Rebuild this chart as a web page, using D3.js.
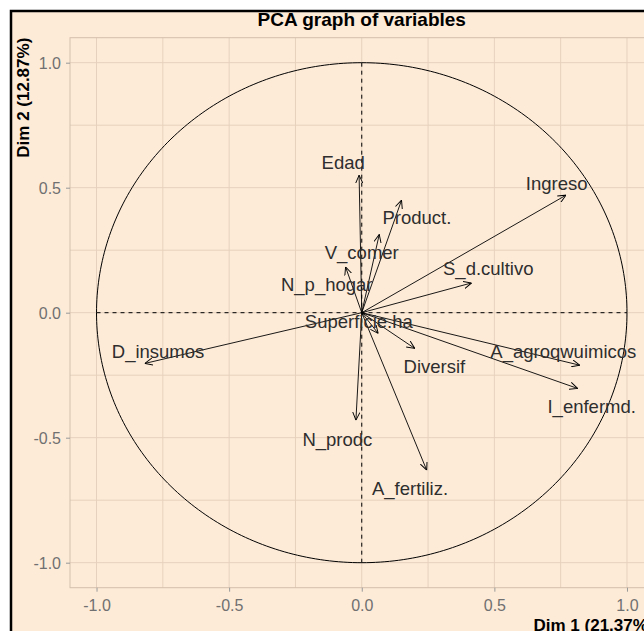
<!DOCTYPE html>
<html>
<head>
<meta charset="utf-8">
<script src="https://cdn.jsdelivr.net/npm/d3@7"></script>
<style>
  html, body { margin: 0; padding: 0; background: #ffffff; }
  svg { display: block; font-family: "Liberation Sans", Arial, sans-serif; }
</style>
</head>
<body>
<div id="chart"></div>
<script>
// variáveis e coordenadas (Dim 1, Dim 2)
const varNames = ["Edad", "Product.", "V_comer", "N_p_hogar", "S_d.cultivo", "Ingreso",
  "Superficie.ha", "D_insumos", "Diversif", "A_agroqwuimicos", "I_enfermd.", "N_prodc", "A_fertiliz."];
const dim1 = [-0.01, 0.15, 0.066, -0.061, 0.414, 0.77, 0.062, -0.818, 0.20, 0.822, 0.814, -0.022, 0.245];
const dim2 = [0.55, 0.45, 0.313, 0.183, 0.119, 0.47, -0.083, -0.203, -0.143, -0.21, -0.303, -0.43, -0.63];
// posição dos rótulos (centro do texto)
const labDim1 = [-0.07, 0.208, 0.0, -0.132, 0.477, 0.735, -0.011, -0.768, 0.274, 0.76, 0.867, -0.092, 0.182];
const labDim2 = [0.60, 0.38, 0.239, 0.113, 0.177, 0.515, -0.037, -0.157, -0.217, -0.157, -0.374, -0.507, -0.703];

const tickValues = [-1.0, -0.5, 0.0, 0.5, 1.0];
const gridValues = [-1.0, -0.75, -0.5, -0.25, 0.0, 0.25, 0.5, 0.75, 1.0];

const W = 644, H = 631;
const bg = "#fdebd8";

const svg = d3.select("#chart").append("svg")
  .attr("width", W)
  .attr("height", H);

// fundo e moldura preta
svg.append("rect")
  .attr("x", 11).attr("y", 11)
  .attr("width", 700).attr("height", 700)
  .attr("fill", bg)
  .attr("stroke", "#000")
  .attr("stroke-width", 2.5);

const xScale = d3.scaleLinear().domain([-1.1, 1.1]).range([70, 653.5]);
const yScale = d3.scaleLinear().domain([-1.1, 1.1]).range([587.7, 37.7]);

// grade
const grid = svg.append("g");
grid.selectAll(".gx").data(gridValues).enter().append("line")
  .attr("x1", d => xScale(d)).attr("x2", d => xScale(d))
  .attr("y1", yScale(1.1)).attr("y2", yScale(-1.1))
  .attr("stroke", "#e6d1bd").attr("stroke-width", 1);
grid.selectAll(".gy").data(gridValues).enter().append("line")
  .attr("y1", d => yScale(d)).attr("y2", d => yScale(d))
  .attr("x1", xScale(-1.1)).attr("x2", xScale(1.1))
  .attr("stroke", "#e6d1bd").attr("stroke-width", 1);

// borda do painel
svg.append("rect")
  .attr("x", xScale(-1.1)).attr("y", yScale(1.1))
  .attr("width", xScale(1.1) - xScale(-1.1))
  .attr("height", yScale(-1.1) - yScale(1.1))
  .attr("fill", "none")
  .attr("stroke", "#d4bfac")
  .attr("stroke-width", 1);

// eixos (hífen simples como no original)
const fmt = d => d3.format(".1f")(d).replace("\u2212", "-");
const xAxis = svg.append("g")
  .attr("transform", `translate(0,${yScale(-1.1)})`)
  .call(d3.axisBottom(xScale).tickValues(tickValues).tickFormat(fmt).tickSize(4).tickPadding(5));
const yAxis = svg.append("g")
  .attr("transform", `translate(${xScale(-1.1)},0)`)
  .call(d3.axisLeft(yScale).tickValues(tickValues).tickFormat(fmt).tickSize(4).tickPadding(5));
[xAxis, yAxis].forEach(ax => {
  ax.select(".domain").remove();
  ax.selectAll(".tick line").attr("stroke", "#999");
  ax.selectAll(".tick text")
    .attr("fill", "#707070")
    .attr("font-size", "16px")
    .attr("font-family", "Liberation Sans, Arial, sans-serif");
});
xAxis.selectAll(".tick text").attr("dy", "0.9em");
yAxis.selectAll(".tick text").attr("dy", "0.35em");

// círculo de correlação
const angles = d3.range(0, 361, 1).map(a => a * Math.PI / 180);
svg.append("path")
  .attr("d", d3.line()(angles.map(a => [xScale(Math.cos(a)), yScale(Math.sin(a))])))
  .attr("fill", "none")
  .attr("stroke", "#000")
  .attr("stroke-width", 1);

// linhas tracejadas
svg.append("line")
  .attr("x1", xScale(-1)).attr("x2", xScale(1))
  .attr("y1", yScale(0)).attr("y2", yScale(0))
  .attr("stroke", "#000").attr("stroke-dasharray", "4,4");
svg.append("line")
  .attr("x1", xScale(0)).attr("x2", xScale(0))
  .attr("y1", yScale(1)).attr("y2", yScale(-1))
  .attr("stroke", "#000").attr("stroke-dasharray", "4,4");

// ponta das setas
svg.append("defs").append("marker")
  .attr("id", "arrow")
  .attr("viewBox", "0 -5 10 10")
  .attr("refX", 10).attr("refY", 0)
  .attr("markerUnits", "userSpaceOnUse")
  .attr("markerWidth", 8).attr("markerHeight", 8)
  .attr("orient", "auto")
  .append("path")
  .attr("d", "M0,-4.5L10,0L0,4.5")
  .attr("fill", "none")
  .attr("stroke", "#000")
  .attr("stroke-width", 1.2);

// setas
svg.append("g").selectAll("line").data(varNames).enter().append("line")
  .attr("x1", xScale(0)).attr("y1", yScale(0))
  .attr("x2", (d, i) => xScale(dim1[i]))
  .attr("y2", (d, i) => yScale(dim2[i]))
  .attr("stroke", "#000")
  .attr("stroke-width", 0.9)
  .attr("marker-end", "url(#arrow)");

// rótulos
svg.append("g").selectAll("text").data(varNames).enter().append("text")
  .attr("x", (d, i) => xScale(labDim1[i]))
  .attr("y", (d, i) => yScale(labDim2[i]))
  .attr("text-anchor", "middle")
  .attr("dy", "0.35em")
  .attr("font-size", "18.5px")
  .attr("fill", "#2e2e2e")
  .text(d => d);

// títulos
svg.append("text")
  .attr("x", (xScale(-1.1) + xScale(1.1)) / 2)
  .attr("y", 26)
  .attr("text-anchor", "middle")
  .attr("font-size", "19px")
  .attr("font-weight", "bold")
  .attr("fill", "#000")
  .text("PCA graph of variables");

svg.append("text")
  .attr("x", xScale(1.1))
  .attr("y", 631)
  .attr("text-anchor", "end")
  .attr("font-size", "17px")
  .attr("font-weight", "bold")
  .attr("fill", "#000")
  .text("Dim 1 (21.37%)");

svg.append("text")
  .attr("transform", `translate(28.5,${yScale(1.1)}) rotate(-90)`)
  .attr("text-anchor", "end")
  .attr("font-size", "17px")
  .attr("font-weight", "bold")
  .attr("fill", "#000")
  .text("Dim 2 (12.87%)");
</script>
</body>
</html>
